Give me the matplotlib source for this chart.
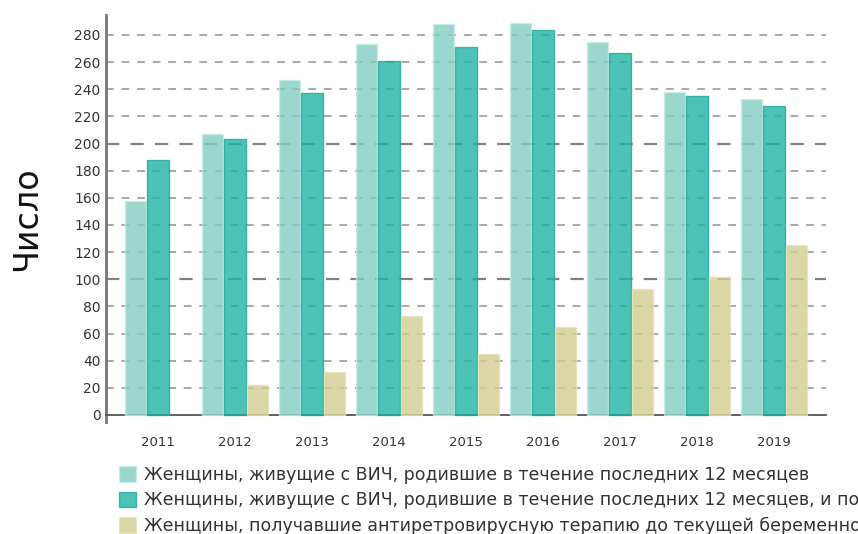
import numpy as np
import matplotlib
matplotlib.use("Agg")
import matplotlib.pyplot as plt

years = ["2011", "2012", "2013", "2014", "2015", "2016", "2017", "2018", "2019"]
gave_birth = [158, 207, 247, 273, 288, 289, 275, 238, 233]
gave_birth_art = [188, 203, 237, 261, 271, 284, 267, 235, 228]
art_before = [np.nan, 22, 32, 73, 45, 65, 93, 102, 125]  # no value for 2011

labels = [
    "Женщины, живущие с ВИЧ, родившие в течение последних 12 месяцев",
    "Женщины, живущие с ВИЧ, родившие в течение последних 12 месяцев, и получавшие антиретровирусные препараты",
    "Женщины, получавшие антиретровирусную терапию до текущей беременности",
]
colors = ["#84cec3", "#20b3a4", "#d1cc90"]
edges = ["#c8ece6", "#1aa898", "#e6e2bb"]

plt.rcParams["font.family"] = ["DejaVu Sans"]

fig = plt.figure(figsize=(8.58, 5.34), dpi=100)
ax = fig.add_axes([106 / 858, (534 - 422) / 534, 720 / 858, 407 / 534])

x = np.arange(len(years))
w = 0.275
series = [gave_birth, gave_birth_art, art_before]
for i, (vals, c, ec, lab) in enumerate(zip(series, colors, edges, labels)):
    ax.bar(x + (i - 1) * 0.29, vals, width=w, color=c, edgecolor=ec,
           linewidth=1.0, alpha=0.8, label=lab, zorder=3)

ax.set_xlim(-0.675, len(years) - 1 + 0.675)
ax.set_ylim(-5.2, 294.7)
yt = np.arange(0, 281, 20)
ax.set_yticks(yt)
ax.set_xticks(x)
ax.set_xticklabels(years)

# dashed grid, heavier on every hundred
for v in yt[1:]:
    if v % 100 == 0:
        ax.axhline(v, color="#808080", lw=1.6, dashes=(6, 5), zorder=1)
    else:
        ax.axhline(v, color="#a8a8a8", lw=1.4, dashes=(4, 4), zorder=1)

for s in ["top", "right"]:
    ax.spines[s].set_visible(False)
ax.spines["bottom"].set_position(("data", 0))
ax.spines["bottom"].set_color("#555555")
ax.spines["bottom"].set_linewidth(1.3)
ax.spines["left"].set_color("#777777")
ax.spines["left"].set_linewidth(2)

ax.tick_params(axis="y", length=0, pad=4, labelsize=10, labelcolor="#333333")
ax.tick_params(axis="x", length=0, pad=15, labelsize=9.5, labelcolor="#333333")

ax.set_ylabel("Число", fontsize=24, color="#111111")
ax.yaxis.set_label_coords(-0.088, 0.5)

leg = fig.legend(loc="upper left", bbox_to_anchor=(112 / 858, 1 - 459 / 534),
                 frameon=False, fontsize=12.5, handlelength=1.0, handleheight=1.0,
                 handletextpad=0.45, labelspacing=0.42, borderaxespad=0)
for t in leg.get_texts():
    t.set_color("#333333")

fig.savefig("out.png", dpi=100)
